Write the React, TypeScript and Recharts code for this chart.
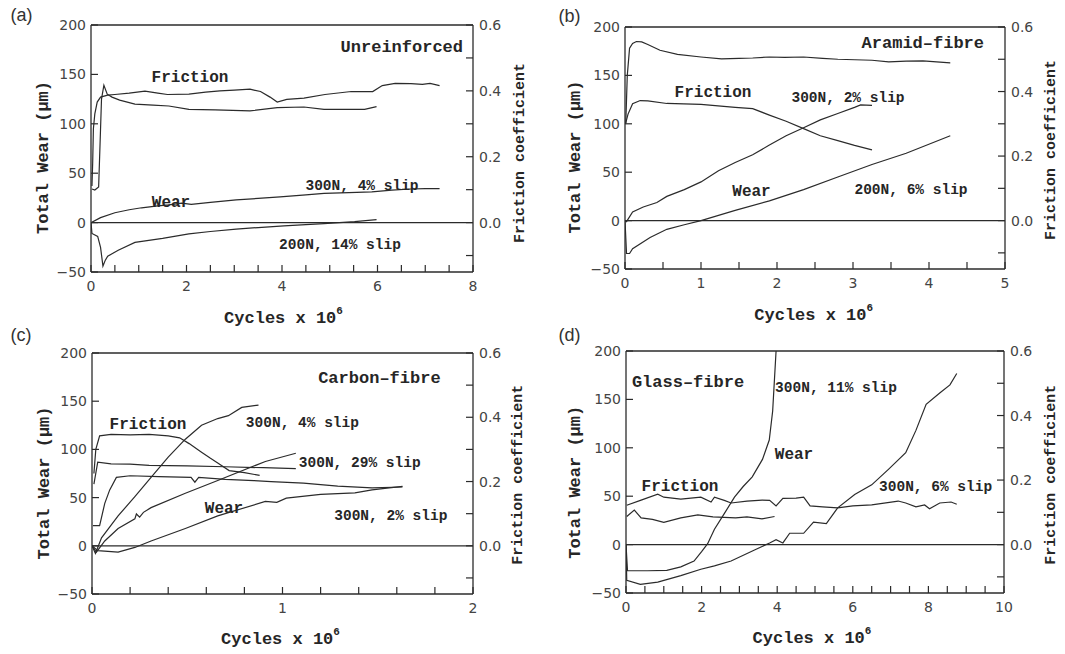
import { LineChart, Line, XAxis, YAxis, ReferenceLine } from "recharts";

// ---- data: [cycles x 10^6, value] ----
// friction curves are friction coefficients, wear curves are µm

// (a) unreinforced
const aFrictionHigh = [
  [0.02, 0.111], [0.035, 0.18], [0.05, 0.285], [0.08, 0.33], [0.13, 0.366], [0.2, 0.381],
  [0.35, 0.387], [0.5, 0.389], [0.8, 0.393], [1.13, 0.399], [1.4, 0.393], [1.6, 0.389],
  [2.05, 0.39], [2.4, 0.396], [2.7, 0.4], [3.0, 0.402], [3.33, 0.405], [3.55, 0.398],
  [3.75, 0.381], [3.9, 0.366], [4.1, 0.374], [4.46, 0.378], [4.9, 0.389], [5.45, 0.398],
  [5.9, 0.398], [6.1, 0.416], [6.37, 0.423], [6.7, 0.422], [6.94, 0.42], [7.1, 0.423], [7.3, 0.416],
];
const aFrictionLow = [
  [0.02, 0.102], [0.08, 0.099], [0.16, 0.108], [0.19, 0.24], [0.22, 0.375], [0.27, 0.417],
  [0.34, 0.39], [0.44, 0.381], [0.6, 0.372], [0.92, 0.36], [1.3, 0.357], [1.63, 0.354],
  [2.05, 0.344], [2.6, 0.342], [3.33, 0.339], [3.9, 0.349], [4.46, 0.351], [4.88, 0.344],
  [5.3, 0.344], [5.73, 0.344], [5.98, 0.352],
];
const aWear300 = [
  [0, 0], [0.2, 5], [0.5, 10], [0.8, 13], [1.06, 15], [1.4, 17], [1.63, 18], [1.9, 19.7],
  [2.1, 18.5], [2.5, 20.5], [3.04, 23], [3.5, 24.5], [3.96, 26], [4.5, 28], [4.88, 29.5],
  [5.4, 30.3], [5.88, 31], [6.3, 32.8], [6.7, 34], [7.0, 34.4], [7.3, 34.4],
];
const aWear200 = [
  [0, 0], [0.02, -11], [0.14, -14], [0.2, -25], [0.25, -44], [0.3, -38], [0.35, -34],
  [0.57, -28], [0.92, -20], [1.5, -16], [2.05, -11.5], [2.5, -9], [3.04, -6.6], [3.5, -5],
  [4.04, -3.3], [4.5, -2], [4.88, -1], [5.52, 1], [5.98, 3],
];

// (b) aramid-fibre
const bFrictionHigh = [
  [0.01, 0.3], [0.03, 0.45], [0.06, 0.534], [0.1, 0.549], [0.15, 0.555], [0.22, 0.554],
  [0.3, 0.546], [0.46, 0.528], [0.69, 0.515], [1.0, 0.507], [1.27, 0.501], [1.5, 0.503],
  [1.68, 0.504], [1.9, 0.507], [2.1, 0.506], [2.35, 0.507], [2.6, 0.503], [2.8, 0.5],
  [3.25, 0.497], [3.47, 0.492], [3.7, 0.494], [3.92, 0.495], [4.1, 0.492], [4.28, 0.489],
];
const bFrictionLow = [
  [0.01, 0.303], [0.04, 0.33], [0.1, 0.362], [0.2, 0.372], [0.3, 0.371], [0.55, 0.363],
  [1.0, 0.36], [1.45, 0.351], [1.68, 0.347], [1.9, 0.327], [2.12, 0.308], [2.35, 0.285],
  [2.57, 0.263], [2.8, 0.248], [3.02, 0.233], [3.25, 0.219],
];
const bWear300 = [
  [0, 0], [0.02, -1], [0.1, 9], [0.24, 14], [0.42, 18.7], [0.55, 25], [0.78, 32], [1.0, 40],
  [1.23, 51.6], [1.45, 60], [1.68, 68], [1.9, 78], [2.12, 87.7], [2.35, 96], [2.57, 104],
  [2.8, 110.7], [3.02, 117], [3.1, 119.5], [3.25, 119],
];
const bWear200 = [
  [0, 0], [0.02, -34], [0.06, -34], [0.1, -29], [0.33, -17.4], [0.55, -9], [0.78, -4.3],
  [1.0, 0], [1.45, 10.5], [1.9, 20.4], [2.35, 32], [2.8, 45], [3.25, 58], [3.7, 69.6], [4.28, 87.7],
];

// (c) carbon-fibre
const cFriction1 = [
  [0.01, 0.225], [0.02, 0.3], [0.04, 0.342], [0.1, 0.347], [0.2, 0.345], [0.3, 0.347],
  [0.4, 0.342], [0.46, 0.336], [0.51, 0.318], [0.575, 0.291], [0.62, 0.273], [0.66, 0.258],
  [0.72, 0.234], [0.8, 0.228], [0.88, 0.219],
];
const cFriction2 = [
  [0.01, 0.192], [0.03, 0.26], [0.1, 0.255], [0.2, 0.254], [0.3, 0.25], [0.5, 0.249],
  [0.7, 0.246], [0.9, 0.243], [1.07, 0.24],
];
const cFriction3 = [
  [0.005, 0.063], [0.04, 0.063], [0.067, 0.132], [0.093, 0.174], [0.128, 0.213], [0.2, 0.218],
  [0.35, 0.215], [0.52, 0.213], [0.54, 0.198], [0.56, 0.213], [0.7, 0.207], [0.85, 0.203],
  [0.94, 0.2], [1.11, 0.195], [1.29, 0.186], [1.47, 0.18], [1.63, 0.183],
];
const cWear4 = [
  [0, 0], [0.018, -8], [0.05, 8.3], [0.137, 31], [0.225, 51], [0.31, 71], [0.4, 92],
  [0.49, 110.6], [0.575, 125], [0.66, 132], [0.716, 135], [0.786, 143.6], [0.874, 146],
];
const cWear29 = [
  [0, 0], [0.023, -6.6], [0.067, 5], [0.137, 18], [0.225, 28], [0.233, 33], [0.25, 29.7],
  [0.27, 34.7], [0.31, 39.6], [0.49, 54.5], [0.66, 67.7], [0.91, 87.5], [1.07, 96],
];
const cWear2 = [
  [0, 0], [0.03, -5], [0.137, -6.6], [0.225, -1.7], [0.31, 5], [0.49, 18], [0.66, 31],
  [0.91, 46], [0.97, 45], [1.02, 49.4], [1.2, 53.4], [1.38, 55], [1.47, 58], [1.56, 60], [1.63, 61.6],
];

// (d) glass-fibre
const dFrictionHigh = [
  [0.02, 0.122], [0.4, 0.138], [0.84, 0.156], [1.0, 0.147], [1.45, 0.141], [1.98, 0.147],
  [2.25, 0.132], [2.34, 0.147], [2.6, 0.137], [2.78, 0.129], [3.2, 0.135], [3.6, 0.138],
  [3.8, 0.137], [3.97, 0.12], [4.15, 0.143], [4.5, 0.144], [4.7, 0.147], [4.87, 0.12],
  [5.2, 0.117], [5.6, 0.114], [6.0, 0.12], [6.5, 0.123], [7.2, 0.135], [7.4, 0.129],
  [7.67, 0.117], [7.9, 0.123], [8.03, 0.111], [8.3, 0.129], [8.6, 0.132], [8.75, 0.125],
];
const dFrictionLow = [
  [0.02, 0.087], [0.22, 0.107], [0.4, 0.083], [0.7, 0.078], [1.0, 0.069], [1.45, 0.083],
  [1.9, 0.092], [2.3, 0.086], [2.9, 0.083], [3.2, 0.086], [3.6, 0.08], [3.93, 0.087],
];
const dWear11 = [
  [0, 0], [0.04, -27], [0.57, -27], [1.08, -26.7], [1.45, -23], [1.8, -17], [2.0, -7.3],
  [2.16, 1], [2.34, 15.9], [2.6, 32], [2.87, 49], [3.1, 60], [3.34, 70], [3.61, 88],
  [3.79, 108], [3.88, 138], [3.97, 200],
];
const dWear6 = [
  [0, 0], [0.02, -37], [0.38, -41], [0.84, -38.7], [1.45, -32], [1.98, -25.5], [2.34, -22],
  [2.78, -17], [3.4, -5.6], [3.8, 1.7], [3.97, 5], [4.15, 1.7], [4.33, 11.7], [4.7, 11.7],
  [4.96, 23.3], [5.3, 21.7], [5.6, 38], [6.05, 51.7], [6.5, 61.7], [6.95, 78], [7.4, 95],
  [7.67, 118], [7.94, 145], [8.3, 156.7], [8.57, 165], [8.75, 176.7],
];

// ---- ticks ----
const wearTicks = [-50, 0, 50, 100, 150, 200];
const frictionTicks = [-0.1, 0, 0.1, 0.2, 0.3, 0.4, 0.5, 0.6];
const frictionLabels = [0, 0.2, 0.4, 0.6];
const xTicksA = [0, 0.5, 1, 1.5, 2, 2.5, 3, 3.5, 4, 4.5, 5, 5.5, 6, 6.5, 7, 7.5, 8];
const xLabelsA = [0, 2, 4, 6, 8];
const xTicksB = [0, 0.5, 1, 1.5, 2, 2.5, 3, 3.5, 4, 4.5, 5];
const xLabelsB = [0, 1, 2, 3, 4, 5];
const xTicksC = [0, 0.2, 0.4, 0.6, 0.8, 1, 1.2, 1.4, 1.6, 1.8, 2];
const xLabelsC = [0, 1, 2];
const xTicksD = [0, 0.5, 1, 1.5, 2, 2.5, 3, 3.5, 4, 4.5, 5, 5.5, 6, 6.5, 7, 7.5, 8, 8.5, 9, 9.5, 10];
const xLabelsD = [0, 2, 4, 6, 8, 10];

const INK = "#2b2b2b";
const TICK_FONT = "'DejaVu Sans', sans-serif";
const MONO = "'Liberation Mono', 'DejaVu Sans Mono', monospace";

const has = (list: number[], v: number) => list.some((l) => Math.abs(l - v) < 1e-6);
const toPts = (rows: number[][]) => rows.map(([x, y]) => ({ x, y }));

function XTick({ x, y, payload, labels }: any) {
  const v = payload.value;
  return (
    <g>
      <line x1={x} y1={y} x2={x} y2={y - 7} stroke={INK} strokeWidth={1.2} />
      {has(labels, v) && (
        <text x={x} y={y + 14} textAnchor="middle" dominantBaseline="central"
          fontFamily={TICK_FONT} fontSize={14} fill="#444">{String(v)}</text>
      )}
    </g>
  );
}

function WearTick({ x, y, payload }: any) {
  const v = payload.value;
  return (
    <g>
      <line x1={x} y1={y} x2={x + 7} y2={y} stroke={INK} strokeWidth={1.2} />
      <text x={x - 5} y={y} textAnchor="end" dominantBaseline="central"
        fontFamily={TICK_FONT} fontSize={14} fill="#444">
        {v < 0 ? "\u2212" + Math.abs(v) : String(v)}
      </text>
    </g>
  );
}

function FrictionTick({ x, y, payload }: any) {
  const v = payload.value;
  return (
    <g>
      <line x1={x} y1={y} x2={x - 7} y2={y} stroke={INK} strokeWidth={1.2} />
      {has(frictionLabels, v) && (
        <text x={x + 6} y={y} textAnchor="start" dominantBaseline="central"
          fontFamily={TICK_FONT} fontSize={14} fill="#444">{v.toFixed(1)}</text>
      )}
    </g>
  );
}

type Curve = { rows: number[][]; axis: "wear" | "friction" };
type PanelProps = {
  plot: { l: number; t: number; r: number; b: number };
  xMax: number;
  xTicks: number[];
  xLabels: number[];
  curves: Curve[];
};

function Panel({ plot, xMax, xTicks, xLabels, curves }: PanelProps) {
  const w = plot.r - plot.l + 120;
  const h = plot.b - plot.t + 50;
  return (
    <div style={{ position: "absolute", left: plot.l - 60, top: plot.t - 10, width: w, height: h }}>
      <LineChart width={w} height={h} margin={{ top: 10, right: 20, bottom: 20, left: 20 }}>
        <XAxis type="number" dataKey="x" domain={[0, xMax]} ticks={xTicks} interval={0}
          allowDataOverflow height={30} tickSize={0} tickMargin={0} tickLine={false}
          axisLine={{ stroke: INK, strokeWidth: 1.3 }}
          tick={(p: any) => <XTick {...p} labels={xLabels} />} />
        <YAxis yAxisId="wear" orientation="left" type="number" domain={[-50, 200]} ticks={wearTicks}
          interval={0} allowDataOverflow width={40} tickSize={0} tickMargin={0} tickLine={false}
          axisLine={{ stroke: INK, strokeWidth: 1.3 }} tick={(p: any) => <WearTick {...p} />} />
        <YAxis yAxisId="friction" orientation="right" type="number" domain={[-0.15, 0.6]}
          ticks={frictionTicks} interval={0} allowDataOverflow width={40} tickSize={0} tickMargin={0}
          tickLine={false} axisLine={{ stroke: INK, strokeWidth: 1.3 }}
          tick={(p: any) => <FrictionTick {...p} />} />
        <ReferenceLine yAxisId="wear" y={200} stroke={INK} strokeWidth={1.3} />
        <ReferenceLine yAxisId="wear" y={0} stroke={INK} strokeWidth={1.3} />
        {curves.map((c, i) => (
          <Line key={i} yAxisId={c.axis} data={toPts(c.rows)} dataKey="y" type="linear"
            stroke={INK} strokeWidth={1.2} dot={false} isAnimationActive={false} />
        ))}
      </LineChart>
    </div>
  );
}

type Note = { text: string; x: number; y: number; size: number; anchor?: "start" | "middle" | "end" };

function Texts({ notes }: { notes: Note[] }) {
  return (
    <>
      {notes.map((n, i) => (
        <text key={i} x={n.x} y={n.y} textAnchor={n.anchor ?? "middle"} dominantBaseline="central"
          fontFamily={MONO} fontWeight={700} fontSize={n.size} fill="#262626">{n.text}</text>
      ))}
    </>
  );
}

function Titles({ wear, friction, cycles, tag }: {
  wear: [number, number]; friction: [number, number]; cycles: [number, number]; tag: [string, number, number];
}) {
  return (
    <>
      <text x={tag[1]} y={tag[2]} textAnchor="middle" dominantBaseline="central"
        fontFamily="'Liberation Sans', Arial, sans-serif" fontSize={18} fill="#333">{tag[0]}</text>
      <text transform={`translate(${wear[0]},${wear[1]}) rotate(-90)`} textAnchor="middle"
        dominantBaseline="central" fontFamily={MONO} fontWeight={700} fontSize={17} fill="#262626">
        Total Wear (μm)
      </text>
      <text transform={`translate(${friction[0]},${friction[1]}) rotate(-90)`} textAnchor="middle"
        dominantBaseline="central" fontFamily={MONO} fontWeight={700} fontSize={15} fill="#262626">
        Friction coefficient
      </text>
      <text x={cycles[0]} y={cycles[1]} textAnchor="middle" dominantBaseline="central"
        fontFamily={MONO} fontWeight={700} fontSize={17} fill="#262626">
        Cycles x 10<tspan dy={-7} fontSize={11}>6</tspan>
      </text>
    </>
  );
}

export default function App() {
  return (
    <div style={{ position: "absolute", left: 0, top: 0, width: 1065, height: 654, background: "#fff", overflow: "hidden" }}>
      <Panel plot={{ l: 91, t: 25, r: 473, b: 282 }} xMax={8} xTicks={xTicksA} xLabels={xLabelsA}
        curves={[
          { rows: aFrictionHigh, axis: "friction" }, { rows: aFrictionLow, axis: "friction" },
          { rows: aWear300, axis: "wear" }, { rows: aWear200, axis: "wear" },
        ]} />
      <Panel plot={{ l: 625, t: 27, r: 1005, b: 279 }} xMax={5} xTicks={xTicksB} xLabels={xLabelsB}
        curves={[
          { rows: bFrictionHigh, axis: "friction" }, { rows: bFrictionLow, axis: "friction" },
          { rows: bWear300, axis: "wear" }, { rows: bWear200, axis: "wear" },
        ]} />
      <Panel plot={{ l: 92, t: 353, r: 473, b: 604 }} xMax={2} xTicks={xTicksC} xLabels={xLabelsC}
        curves={[
          { rows: cFriction1, axis: "friction" }, { rows: cFriction2, axis: "friction" },
          { rows: cFriction3, axis: "friction" }, { rows: cWear4, axis: "wear" },
          { rows: cWear29, axis: "wear" }, { rows: cWear2, axis: "wear" },
        ]} />
      <Panel plot={{ l: 626, t: 351, r: 1004, b: 603 }} xMax={10} xTicks={xTicksD} xLabels={xLabelsD}
        curves={[
          { rows: dFrictionHigh, axis: "friction" }, { rows: dFrictionLow, axis: "friction" },
          { rows: dWear11, axis: "wear" }, { rows: dWear6, axis: "wear" },
        ]} />
      <svg width={1065} height={654} style={{ position: "absolute", left: 0, top: 0, pointerEvents: "none" }}>
        <Titles tag={["(a)", 21.5, 15]} wear={[43, 157.5]} friction={[520, 153]} cycles={[283.5, 318]} />
        <Texts notes={[
          { text: "Unreinforced", x: 463, y: 47, size: 17, anchor: "end" },
          { text: "Friction", x: 190, y: 77.5, size: 16 },
          { text: "Wear", x: 171, y: 203, size: 16 },
          { text: "300N, 4% slip", x: 362, y: 186, size: 14.5 },
          { text: "200N, 14% slip", x: 340, y: 245, size: 14.5 },
        ]} />
        <Titles tag={["(b)", 569.5, 16]} wear={[575, 157]} friction={[1051, 150]} cycles={[813.7, 315]} />
        <Texts notes={[
          { text: "Aramid\u2013fibre", x: 984, y: 43.7, size: 17, anchor: "end" },
          { text: "Friction", x: 713, y: 93.4, size: 16 },
          { text: "300N, 2% slip", x: 848, y: 97.6, size: 14.5 },
          { text: "Wear", x: 751.5, y: 192, size: 16 },
          { text: "200N, 6% slip", x: 911, y: 190.4, size: 14.5 },
        ]} />
        <Titles tag={["(c)", 21, 335]} wear={[44.4, 483]} friction={[518, 474.7]} cycles={[280.5, 639]} />
        <Texts notes={[
          { text: "Carbon\u2013fibre", x: 440.6, y: 378.6, size: 17, anchor: "end" },
          { text: "Friction", x: 148, y: 425.4, size: 16 },
          { text: "300N, 4% slip", x: 302.4, y: 423, size: 14.5 },
          { text: "300N, 29% slip", x: 359.7, y: 463.2, size: 14.5 },
          { text: "Wear", x: 224, y: 509.3, size: 16 },
          { text: "300N, 2% slip", x: 390.8, y: 516, size: 14.5 },
        ]} />
        <Titles tag={["(d)", 569.5, 335]} wear={[575, 482.3]} friction={[1051, 474.7]} cycles={[812, 638]} />
        <Texts notes={[
          { text: "Glass\u2013fibre", x: 688, y: 382.5, size: 17 },
          { text: "300N, 11% slip", x: 836, y: 387.5, size: 14.5 },
          { text: "Wear", x: 794, y: 454.5, size: 16 },
          { text: "Friction", x: 680, y: 487.3, size: 16 },
          { text: "300N, 6% slip", x: 935.6, y: 487.3, size: 14.5 },
        ]} />
      </svg>
    </div>
  );
}
